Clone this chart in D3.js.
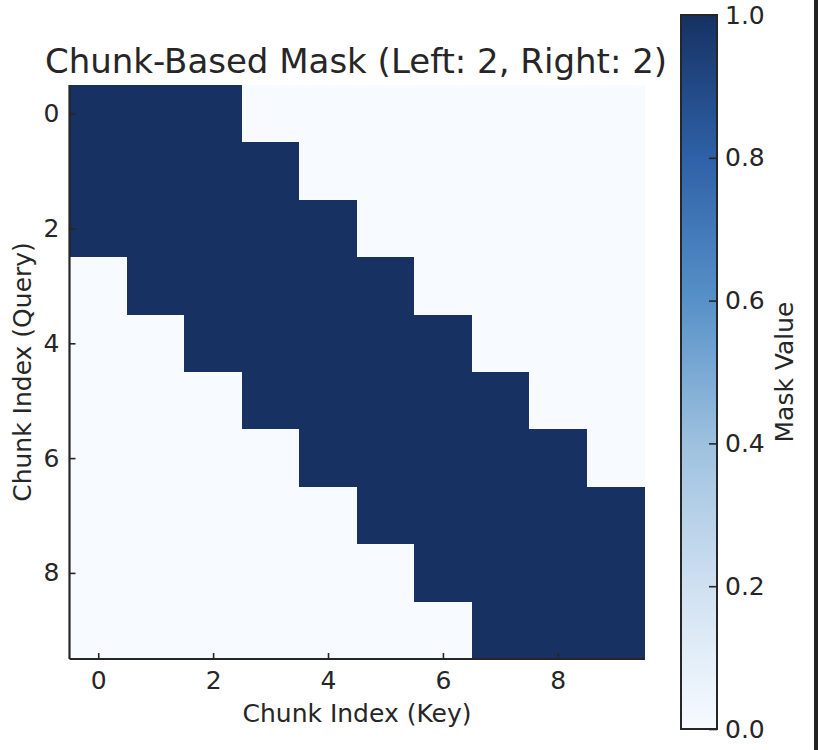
<!DOCTYPE html>
<html><head><meta charset="utf-8">
<script src="https://cdn.jsdelivr.net/npm/d3@7"></script>
<style>body{margin:0;background:#fff;} text{font-family:"DejaVu Sans",sans-serif;fill:#262626;}</style>
</head><body>
<svg id="c" width="818" height="750"></svg>
<script>
const rows = [0,1,2,3,4,5,6,7,8,9];
const cols = [0,1,2,3,4,5,6,7,8,9];
// mask values (1 = attended, 0 = masked)
const maskRows = [
  [1,1,1,0,0,0,0,0,0,0],
  [1,1,1,1,0,0,0,0,0,0],
  [1,1,1,1,1,0,0,0,0,0],
  [0,1,1,1,1,1,0,0,0,0],
  [0,0,1,1,1,1,1,0,0,0],
  [0,0,0,1,1,1,1,1,0,0],
  [0,0,0,0,1,1,1,1,1,0],
  [0,0,0,0,0,1,1,1,1,1],
  [0,0,0,0,0,0,1,1,1,1],
  [0,0,0,0,0,0,0,1,1,1]
];
const axisTicks = [0,2,4,6,8];
const cbTicks = [0.0,0.2,0.4,0.6,0.8,1.0];
const cmapStops = [0,0.2,0.4,0.6,0.8,1.0];
const cmapColors = ["#f7fbff","#cfe0f1","#9dc1df","#5791c8","#2e61a7","#163162"];
const titleText = "Chunk-Based Mask (Left: 2, Right: 2)";

const svg = d3.select("#c");
const L=69.5, R=644, T=85, B=659;
const x = d3.scaleLinear().domain([-0.5,9.5]).range([L,R]);
const y = d3.scaleLinear().domain([-0.5,9.5]).range([T,B]);
const color = d3.scaleLinear().domain(cmapStops).range(cmapColors).interpolate(d3.interpolateRgb);

const cells = [];
rows.forEach(r=>cols.forEach(c=>cells.push({r,c,v:maskRows[r][c]})));
svg.append("g").attr("shape-rendering","crispEdges").selectAll("rect").data(cells).join("rect")
  .attr("x",d=>x(d.c-0.5)).attr("y",d=>y(d.r-0.5))
  .attr("width",x(1)-x(0)+0.6).attr("height",y(1)-y(0)+0.6)
  .attr("fill",d=>color(d.v));

// axes
const ax = svg.append("g").attr("transform",`translate(0,${B})`)
  .call(d3.axisBottom(x).tickValues(axisTicks).tickSize(-6).tickPadding(12).tickFormat(d3.format("d")));
const ay = svg.append("g").attr("transform",`translate(${L},0)`)
  .call(d3.axisLeft(y).tickValues(axisTicks).tickSize(-6).tickPadding(10).tickFormat(d3.format("d")));
[ax,ay].forEach(g=>{
  g.select(".domain").attr("stroke","#262626").attr("stroke-width",2.2);
  g.selectAll(".tick line").attr("stroke","#262626").attr("stroke-width",1.6);
  g.selectAll(".tick text").style("font-size","25px").attr("fill","#262626");
});
ax.select(".domain").attr("d",`M${L},0H${R}`);
ay.select(".domain").attr("d",`M0,${T}V${B}`);

svg.append("text").attr("x",356).attr("y",73).attr("text-anchor","middle")
  .style("font-size","34px").attr("fill","#333").text(titleText);
svg.append("text").attr("x",357).attr("y",722).attr("text-anchor","middle")
  .style("font-size","25px").text("Chunk Index (Key)");
svg.append("text").attr("transform","translate(31,372) rotate(-90)").attr("text-anchor","middle")
  .style("font-size","25px").text("Chunk Index (Query)");

// colorbar
const cbL=681, cbW=36, cbT=15, cbB=729;
const cy = d3.scaleLinear().domain([0,1]).range([cbB,cbT]);
const defs = svg.append("defs");
const grad = defs.append("linearGradient").attr("id","g").attr("x1",0).attr("y1",1).attr("x2",0).attr("y2",0);
d3.range(0,1.0001,0.05).forEach(t=>grad.append("stop").attr("offset",t).attr("stop-color",color(t)));
svg.append("rect").attr("x",cbL).attr("y",cbT).attr("width",cbW).attr("height",cbB-cbT).attr("fill","url(#g)")
  .attr("stroke","#262626").attr("stroke-width",2);
const cax = svg.append("g").attr("transform",`translate(${cbL+cbW},0)`)
  .call(d3.axisRight(cy).tickValues(cbTicks).tickSize(-8).tickPadding(8).tickFormat(d3.format(".1f")));
cax.select(".domain").remove();
cax.selectAll(".tick line").attr("stroke","#262626").attr("stroke-width",1.6);
cax.selectAll(".tick text").style("font-size","25px").attr("fill","#262626");
svg.append("text").attr("transform",`translate(793,372) rotate(-90)`).attr("text-anchor","middle")
  .style("font-size","25px").text("Mask Value");
// dark right edge
svg.append("rect").attr("x",814).attr("y",0).attr("width",4).attr("height",750).attr("fill","#222");
</script>
</body></html>
